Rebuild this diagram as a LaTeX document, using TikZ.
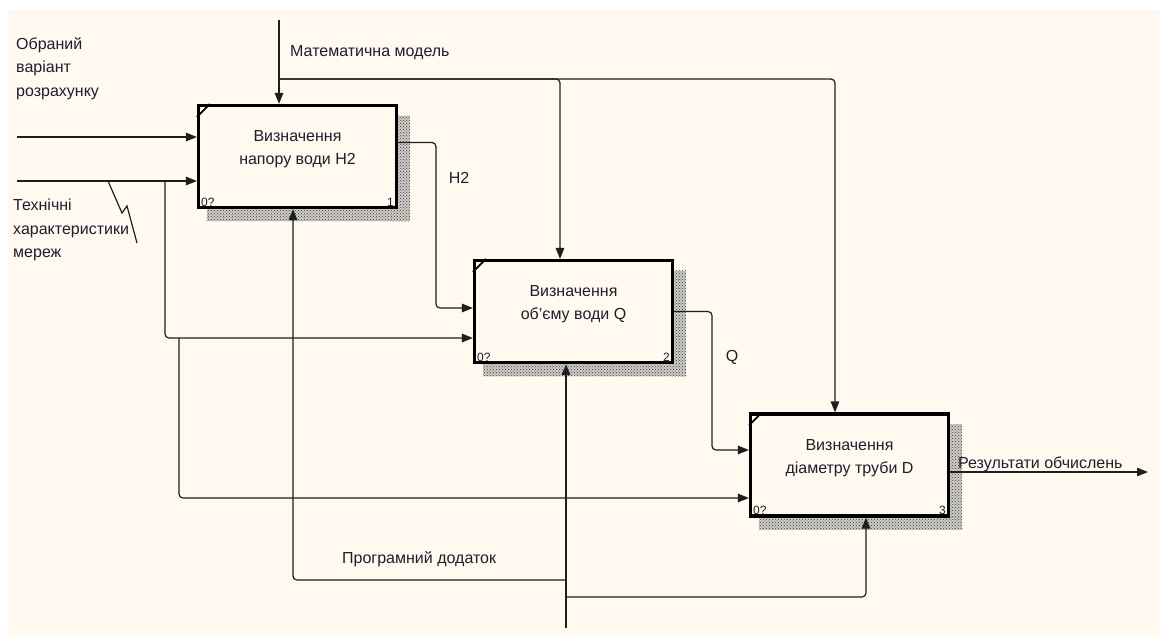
\documentclass[tikz,border=0pt]{standalone}
\usepackage{fontspec}
\setmainfont{Liberation Sans}
\usepackage{tikz}
\usetikzlibrary{arrows.meta, positioning, calc, patterns, backgrounds}
\definecolor{mycream}{RGB}{255,249,239}
\definecolor{mydark}{RGB}{30,30,45}
\definecolor{myline}{RGB}{30,30,30}
\definecolor{myhatch}{RGB}{60,60,60}
\definecolor{myshade}{RGB}{205,203,198}
\tikzset{
  funcbox/.style={rectangle, draw=black, fill=mycream, line width=3.2pt,
    minimum width=198pt, minimum height=102pt, inner sep=0pt},
  boxtext/.style={align=center, font=\fontsize{16}{23}\selectfont,
    text=mydark, inner sep=0pt},
  lbl/.style={align=left, font=\fontsize{16}{23.5}\selectfont,
    text=mydark, inner sep=0pt},
  tag/.style={font=\fontsize{12}{12}\selectfont, text=mydark,
    inner xsep=4pt, inner ysep=2.5pt},
  arrow/.style={-{Triangle[length=11pt,width=8.5pt]}, line width=1.2pt,
    color=myline, rounded corners=4pt},
  line/.style={line width=1.2pt, color=myline},
  hatch/.style={preaction={fill=myshade}, pattern=crosshatch dots, pattern color=myhatch}
}
\begin{document}
\begin{tikzpicture}[x=1pt, y=-1pt]
  \useasboundingbox (0,0) rectangle (1160,635);
  % function boxes
  \node[funcbox] (box1) at (297.5,156.5) {};
  \node[funcbox] (box2) at (573.5,311.5) {};
  \node[funcbox] (box3) at (849.5,465) {};
  \node[boxtext] (t1) at ([yshift=7pt]box1.center) {Визначення\\напору води H2};
  \node[boxtext] (t2) at ([yshift=7pt]box2.center) {Визначення\\об'єму води Q};
  \node[boxtext] (t3) at ([yshift=7pt]box3.center) {Визначення\\діаметру труби D};
  % corner tags and marks
  \foreach \b/\n in {box1/1,box2/2,box3/3}{
    \node[tag, anchor=south west] (\b-ref) at (\b.south west) {0?};
    \node[tag, anchor=south east] (\b-num) at (\b.south east) {\n};
    \draw[line width=1.8pt] ([yshift=-13pt]\b.north west) -- ([xshift=13pt]\b.north west);
  }
  % paper and shadows
  \begin{scope}[on background layer]
    \fill[white] (0,0) rectangle (1160,635);
    \fill[mycream] (8,10) rectangle (1160,635);
    \foreach \b in {box1,box2,box3}{
      \fill[hatch] ([yshift=-12pt]\b.north east) rectangle ([shift={(12pt,-12pt)}]\b.south east);
      \fill[hatch] ([xshift=10pt]\b.south west) rectangle ([shift={(12pt,-12pt)}]\b.south east);
    }
  \end{scope}

  % labels
  \node[lbl, anchor=north west] (sel) at (16,37) {Обраний\\варіант\\розрахунку};
  \node[lbl, anchor=north west] (tech) at (13,199) {Технічні\\характеристики\\мереж};
  \node[lbl, anchor=base west] (mm) at (290,56) {Математична модель};
  \node[lbl] (h2) at (459,178) {H2};
  \node[lbl] (q) at (732,357) {Q};
  \node[lbl, anchor=base west] (res-l) at (958,468) {Результати обчислень};
  \node[lbl, anchor=base west] (prog) at (342,563) {Програмний додаток};

  % control: mathematical model
  \coordinate (mmtop) at (279,20);
  \coordinate (mmj) at (279,79);
  \draw[arrow] (mmtop) -- (mmtop |- box1.north);
  \draw[arrow] (mmj) -| ([xshift=-13.5pt]box2.north);
  \draw[arrow] (mmj) -| ([xshift=-14.5pt]box3.north);

  % inputs
  \coordinate (in1) at (17,137);
  \coordinate (in2) at (17,181);
  \draw[arrow] (in1) -- (in1 -| box1.west);
  \draw[arrow] (in2) -- (in2 -| box1.west);
  \coordinate (tj1) at (165,181);
  \coordinate (tj2) at (179,338);
  \draw[arrow] (tj1) |- ([yshift=-26.5pt]box2.west);
  \draw[arrow] (tj2) |- ([yshift=-33pt]box3.west);
  % squiggle
  \coordinate (sq1) at (108,181);
  \coordinate (sq2) at (137,243);
  \draw[line] (sq1) -- (122,213) -- (127,206) -- (sq2);

  % outputs
  \coordinate (h2x) at (436,0);
  \coordinate (b2in1) at ([yshift=3.5pt]box2.west);
  \draw[arrow] ([yshift=14pt]box1.east) -| (h2x |- b2in1) -- (b2in1);
  \coordinate (qx) at (712,0);
  \coordinate (b3in1) at ([yshift=15pt]box3.west);
  \draw[arrow] (box2.east) -| (qx |- b3in1) -- (b3in1);
  \coordinate (res) at (1148,472);
  \draw[arrow] (res -| box3.east) -- (res);

  % mechanism: software
  \coordinate (pa) at (566,628);
  \coordinate (pj1) at (566,580);
  \coordinate (pj2) at (566,597);
  \draw[arrow] (pa) -- (pa |- box2.south);
  \draw[arrow] (pj1) -| ([xshift=-4.5pt]box1.south);
  \draw[arrow] (pj2) -| ([xshift=16.5pt]box3.south);
\end{tikzpicture}
\end{document}
